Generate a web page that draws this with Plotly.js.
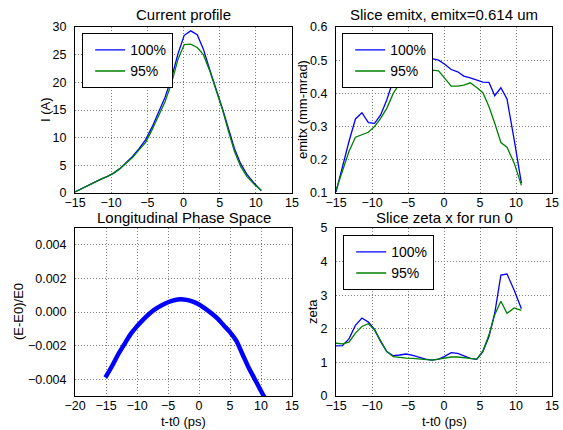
<!DOCTYPE html>
<html>
<head>
<meta charset="utf-8">
<script src="https://cdn.plot.ly/plotly-3.0.1.min.js"></script>
<style>html,body{margin:0;padding:0;background:#fff;}#chart{width:563px;height:430px;}</style>
</head>
<body>
<div id="chart"></div>
<script>
// ---- data ----
const sliceT = [-15.0, -14.1, -13.2, -12.3, -11.4, -10.5, -9.65, -8.8, -7.95, -7.05, -6.15, -5.25, -4.35, -3.45, -2.55, -1.65, -0.75, 0.1, 1.0, 1.9, 2.75, 3.65, 4.55, 5.4, 6.25, 7.05, 7.9, 8.75, 9.75, 10.75];

const current100 = [0.2, 0.8, 1.4, 2.0, 2.5, 3.0, 3.6, 4.4, 5.4, 6.6, 8.0, 9.6, 11.9, 14.5, 17.3, 20.8, 25.2, 28.5, 29.3, 28.6, 26.0, 22.2, 18.7, 15.2, 11.5, 8.0, 5.3, 3.4, 1.8, 0.4];
const current95  = [0.2, 0.8, 1.4, 2.0, 2.5, 3.0, 3.6, 4.4, 5.3, 6.4, 7.8, 9.1, 11.4, 13.8, 16.5, 19.9, 24.2, 26.8, 26.9, 26.3, 25.0, 22.0, 18.6, 15.0, 11.0, 7.5, 4.8, 3.0, 1.6, 0.5];

const emitx100 = [0.103, 0.18, 0.255, 0.323, 0.342, 0.312, 0.31, 0.335, 0.38, 0.44, 0.47, 0.49, 0.50, 0.505, 0.51, 0.505, 0.50, 0.488, 0.472, 0.465, 0.452, 0.447, 0.44, 0.434, 0.433, 0.393, 0.417, 0.383, 0.26, 0.13];
const emitx95  = [0.108, 0.165, 0.225, 0.268, 0.276, 0.283, 0.30, 0.325, 0.355, 0.40, 0.43, 0.445, 0.455, 0.46, 0.465, 0.47, 0.468, 0.445, 0.422, 0.422, 0.425, 0.432, 0.418, 0.402, 0.36, 0.31, 0.252, 0.238, 0.19, 0.123];

const zeta100 = [1.49, 1.50, 1.7, 2.1, 2.32, 2.2, 1.98, 1.62, 1.32, 1.2, 1.22, 1.25, 1.21, 1.15, 1.1, 1.07, 1.1, 1.18, 1.29, 1.27, 1.2, 1.12, 1.09, 1.32, 1.77, 2.47, 3.6, 3.63, 3.15, 2.6];
const zeta95  = [1.57, 1.55, 1.6, 1.87, 2.07, 2.15, 1.97, 1.65, 1.32, 1.17, 1.14, 1.13, 1.12, 1.1, 1.08, 1.07, 1.1, 1.13, 1.16, 1.16, 1.14, 1.12, 1.1, 1.34, 1.82, 2.42, 2.82, 2.46, 2.62, 2.55];

const phaseT  = [-15.1, -14, -13, -12, -11, -10, -9, -8, -7, -6, -5, -4, -3, -2, -1, 0, 1, 2, 3, 4, 5, 6, 7, 8, 9, 10, 10.6];
const phaseDE = [-0.0039, -0.0032, -0.0025, -0.0019, -0.0013, -0.00085, -0.00045, -0.0001, 0.00018, 0.0004, 0.00058, 0.0007, 0.00076, 0.00072, 0.00062, 0.00045, 0.0002, -0.00008, -0.0004, -0.0008, -0.0012, -0.0017, -0.0025, -0.0033, -0.0040, -0.0047, -0.0051];

const seriesNames = ['100%', '95%'];
const titles = ['Current profile', 'Slice emitx, emitx=0.614 um', 'Longitudinal Phase Space', 'Slice zeta x for run 0'];

// ---- styling ----
const BLUE = '#0000ff', GREEN = '#008000';
const FONT = 'Liberation Sans, Arial, sans-serif';
const W = 563, H = 430;
const px = v => v / W, py = v => 1 - v / H;

function line(x, y, color, name, xa, ya, legend, show) {
  return {x: x, y: y, type: 'scatter', mode: 'lines', name: name,
    line: {color: color, width: 1.3}, xaxis: xa, yaxis: ya,
    legend: legend, showlegend: show, hoverinfo: 'skip'};
}

const traces = [
  line(sliceT, current100, BLUE, seriesNames[0], 'x', 'y', 'legend', true),
  line(sliceT, current95, GREEN, seriesNames[1], 'x', 'y', 'legend', true),
  line(sliceT, emitx100, BLUE, seriesNames[0], 'x2', 'y2', 'legend2', true),
  line(sliceT, emitx95, GREEN, seriesNames[1], 'x2', 'y2', 'legend2', true),
  {x: phaseT, y: phaseDE, type: 'scatter', mode: 'lines', line: {color: BLUE, width: 4.5, shape: 'spline'},
   xaxis: 'x3', yaxis: 'y3', showlegend: false, hoverinfo: 'skip'},
  line(sliceT, zeta100, BLUE, seriesNames[0], 'x4', 'y4', 'legend3', true),
  line(sliceT, zeta95, GREEN, seriesNames[1], 'x4', 'y4', 'legend3', true)
];

function axis(domain, range, dtick, anchor, fmt, isX) {
  const a = {domain: domain, range: range, dtick: dtick, tick0: 0, anchor: anchor,
    showline: true, mirror: true, linecolor: '#000', linewidth: 1,
    showgrid: true, gridcolor: '#808080', griddash: '1px,2px', gridwidth: 1,
    zeroline: false, ticks: '', ticklabelstandoff: isX ? -2 : 5,
    tickfont: {family: FONT, size: 12.5, color: '#000'}, fixedrange: true};
  if (fmt) a.tickformat = fmt;
  return a;
}

const xL = [px(75), px(292)], xR = [px(336), px(552)];
const yT = [py(193), py(27)], yB = [py(396), py(228)];

function legendAt(x0, y0) {
  return {x: px(x0), y: py(y0), xref: 'paper', yref: 'paper', xanchor: 'left', yanchor: 'top',
    bgcolor: '#fff', bordercolor: '#000', borderwidth: 1.2, indentation: 7,
    font: {family: FONT, size: 14, color: '#000'}, tracegroupgap: 0, itemwidth: 30};
}

function ann(text, x, y, size, angle) {
  return {text: text, x: x, y: y, xref: 'paper', yref: 'paper', showarrow: false,
    xanchor: 'center', yanchor: 'middle', textangle: angle || 0,
    font: {family: FONT, size: size, color: '#000'}};
}

const layout = {
  width: W, height: H, margin: {l: 0, r: 0, t: 0, b: 0},
  paper_bgcolor: '#fff', plot_bgcolor: '#fff',
  xaxis:  axis(xL, [-15, 15], 5, 'y', null, true),
  yaxis:  axis(yT, [0, 30], 5, 'x'),
  xaxis2: axis(xR, [-15, 15], 5, 'y2', null, true),
  yaxis2: axis(yT, [0.1, 0.6], 0.1, 'x2', '.1f'),
  xaxis3: axis(xL, [-20, 15], 5, 'y3', null, true),
  yaxis3: axis(yB, [-0.005, 0.005], 0.002, 'x3', '.3f'),
  xaxis4: axis(xR, [-15, 15], 5, 'y4', null, true),
  yaxis4: axis(yB, [0, 5], 1, 'x4'),
  legend: legendAt(82, 33),
  legend2: legendAt(342, 33),
  legend3: legendAt(343, 235),
  annotations: [
    ann(titles[0], px(183.5), py(15), 15),
    ann(titles[1], px(444), py(15), 15),
    ann(titles[2], px(183.5), py(217.5), 15),
    ann(titles[3], px(444), py(217.5), 15),
    ann('I (A)', px(45), py(110), 13, -90),
    ann('emitx (mm-mrad)', px(302), py(110), 13, -90),
    ann('(E-E0)/E0', px(18), py(312), 13, -90),
    ann('zeta', px(312), py(312), 13, -90),
    ann('t-t0 (ps)', px(183.5), py(421.5), 13),
    ann('t-t0 (ps)', px(444), py(421.5), 13)
  ]
};
layout.yaxis3.tick0 = -0.004;

Plotly.newPlot('chart', traces, layout, {staticPlot: true, displayModeBar: false});
</script>
</body>
</html>
